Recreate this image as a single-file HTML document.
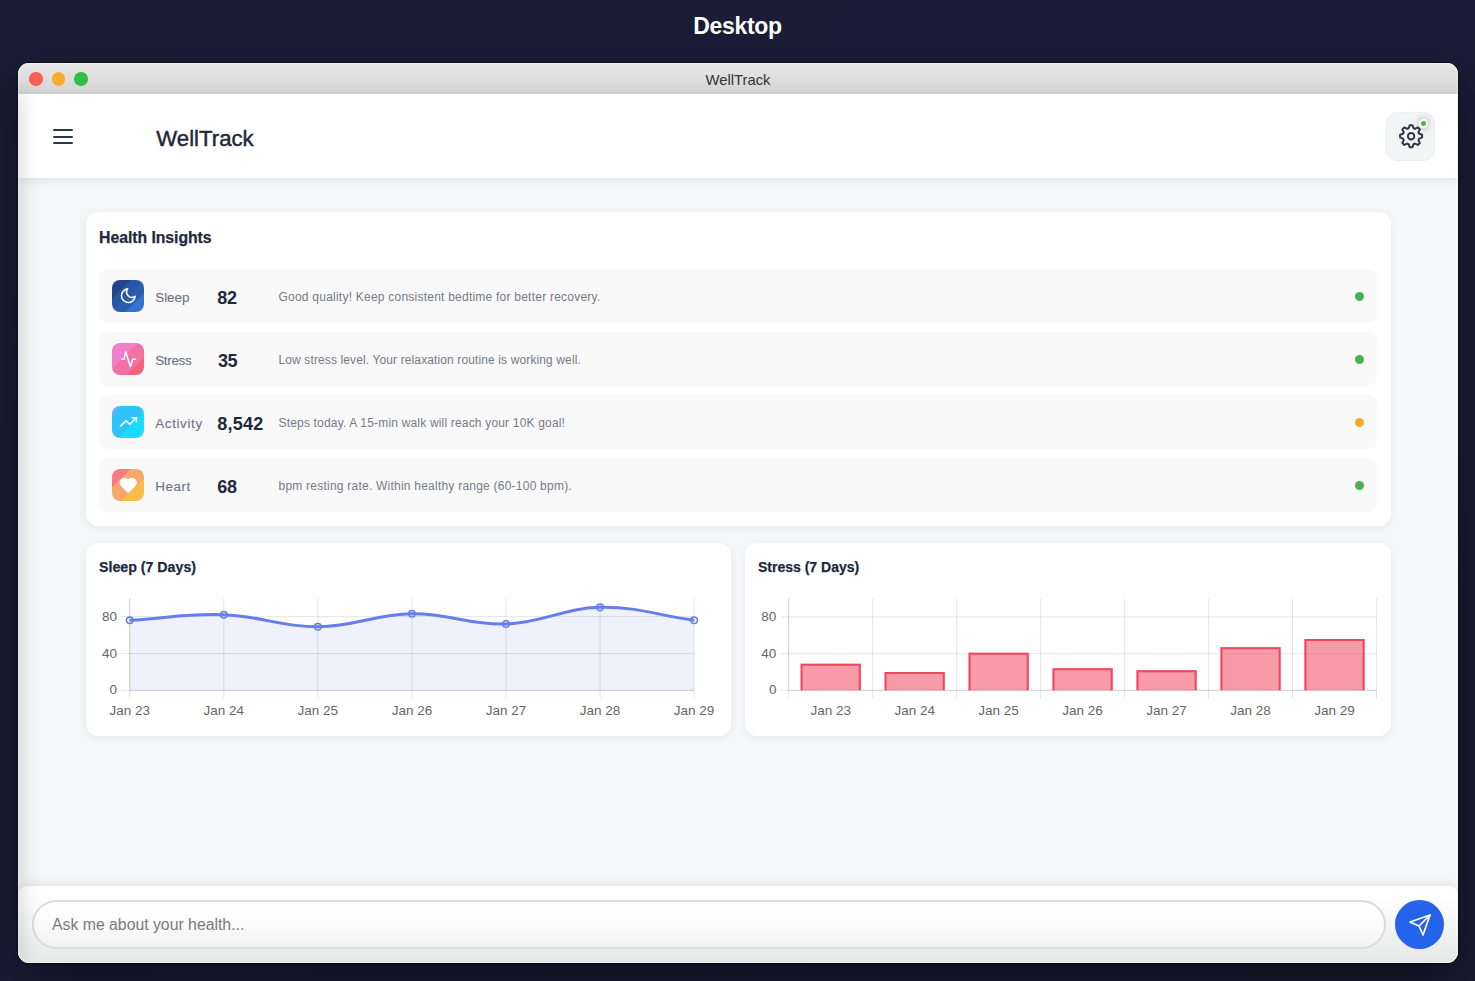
<!DOCTYPE html>
<html>
<head>
<meta charset="utf-8">
<style>
*{box-sizing:border-box;margin:0;padding:0}
html,body{width:1475px;height:981px;overflow:hidden}
body{font-family:"Liberation Sans",sans-serif;background:linear-gradient(135deg,#1a1d34 0%,#1b1d38 50%,#191c33 100%);position:relative}
.abs{position:absolute}
#dtitle{position:absolute;left:0;width:1475px;top:11px;text-align:center;color:#fff;font-weight:bold;font-size:23px;line-height:30px;letter-spacing:-0.3px}
#win{position:absolute;left:18px;top:63px;width:1440px;height:900px;border-radius:11px;overflow:hidden;background:#f5f6f8;
  box-shadow:0 0 0 1px rgba(0,0,0,0.55),0 20px 50px rgba(0,0,0,0.45)}
#inner{position:absolute;left:-18px;top:-63px;width:1475px;height:981px}
#tbar{position:absolute;left:18px;top:63px;width:1440px;height:31px;background:linear-gradient(180deg,#e7e7e7 0%,#dedede 50%,#d2d2d2 100%)}
.tl{position:absolute;top:72.2px;width:13.6px;height:13.6px;border-radius:50%}
#ttitle{position:absolute;left:18px;width:1440px;top:71px;text-align:center;font-size:14.8px;line-height:18px;color:#333}
#hdr{position:absolute;left:18px;top:94px;width:1440px;height:84px;background:#fff;box-shadow:0 3px 9px rgba(0,0,0,0.075);z-index:2}
.hb{position:absolute;left:53px;width:20px;height:2px;background:#2d3748;border-radius:1px}
#brand{position:absolute;left:156.3px;top:125.8px;font-size:22.2px;line-height:26px;color:#1f2937;-webkit-text-stroke:0.45px #1f2937}
#gear{position:absolute;left:1386px;top:112px;width:49px;height:49px;border-radius:11px;background:#f3f4f6;border:1px solid #eceef1}
#gdot{position:absolute;left:1418.5px;top:119px;width:9px;height:9px;border-radius:50%;background:#4caf50;border:2px solid #fff;box-shadow:0 0 6px 1px rgba(0,0,0,0.22)}
.card{position:absolute;background:#fff;border-radius:12px;box-shadow:0 2px 8px rgba(0,0,0,0.06)}
.ctitle{position:absolute;font-weight:bold;color:#1e293b;-webkit-text-stroke:0.25px #1e293b}
.row{position:absolute;left:99px;width:1278px;height:54px;background:#f9f9fa;border-radius:8px}
.ic{position:absolute;left:13.4px;top:11.2px;width:31.6px;height:31.6px;border-radius:8px}
.ic svg{position:absolute}
.lbl{position:absolute;left:56.2px;top:19.7px;font-size:13.5px;line-height:18px;color:#6b7280;-webkit-text-stroke:0.08px #6b7280}
.val{position:absolute;left:118.3px;top:18.3px;font-size:18px;line-height:22px;font-weight:bold;color:#1e293b}
.desc{position:absolute;left:179.5px;top:20px;font-size:12px;line-height:16px;color:#767b84}
.dot{position:absolute;left:1255.8px;top:23px;width:9px;height:9px;border-radius:50%}
svg text{font-family:"Liberation Sans",sans-serif;font-size:13.5px;fill:#666}
#sbshadow{position:absolute;left:-282px;top:94px;width:300px;height:870px;background:#fff;box-shadow:2px 0 20px rgba(0,0,0,0.17);z-index:5}
#ibar{position:absolute;left:18px;top:886px;width:1440px;height:77px;background:linear-gradient(180deg,#fff 0%,#fcfcfc 25%,#e6e7e7 100%);border-radius:9px 9px 0 0;box-shadow:0 -2px 10px rgba(0,0,0,0.09);z-index:3}
#inp{position:absolute;left:32px;top:900px;width:1354px;height:49px;border-radius:24.5px;border:2px solid #d6dde6;background:linear-gradient(180deg,#fff 0%,#fbfbfb 50%,#f1f1f1 100%);z-index:4}
#ph{position:absolute;left:18px;top:13.6px;font-size:15.8px;line-height:18px;color:#7a7a7a}
#send{position:absolute;left:1395px;top:900px;width:49.2px;height:49.2px;border-radius:50%;background:#2563eb;z-index:4}
#wborder{position:absolute;left:0;top:0;width:1440px;height:900px;border-radius:11px;border:1px solid rgba(255,255,255,0.45);z-index:10;pointer-events:none}
</style>
</head>
<body>
<div id="dtitle">Desktop</div>
<div id="win">
 <div id="inner">
  <div id="tbar"></div>
  <div class="tl" style="left:29.3px;background:#f55f57"></div>
  <div class="tl" style="left:51.7px;background:#fbab2c"></div>
  <div class="tl" style="left:74.25px;background:#2fbf43"></div>
  <div id="ttitle">WellTrack</div>

  <div id="hdr">
  </div>
  <div class="hb" style="top:128.8px;z-index:3"></div>
  <div class="hb" style="top:135.5px;z-index:3"></div>
  <div class="hb" style="top:142.2px;z-index:3"></div>
  <div id="brand" style="z-index:3">WellTrack</div>
  <div id="gear" style="z-index:3">
   <svg width="49" height="49" viewBox="0 0 49 49" style="position:absolute;left:-1px;top:-1px">
    <g transform="translate(25.1 24.2)" fill="none" stroke="#2d3748" stroke-width="2" stroke-linejoin="round">
     <path d="M-2.4 -7.95 L-1.4 -11 L1.4 -11 L2.4 -7.95 A8.3 8.3 0 0 1 3.92 -7.32 L6.79 -8.77 L8.77 -6.79 L7.32 -3.92 A8.3 8.3 0 0 1 7.95 -2.4 L11 -1.4 L11 1.4 L7.95 2.4 A8.3 8.3 0 0 1 7.32 3.92 L8.77 6.79 L6.79 8.77 L3.92 7.32 A8.3 8.3 0 0 1 2.4 7.95 L1.4 11 L-1.4 11 L-2.4 7.95 A8.3 8.3 0 0 1 -3.92 7.32 L-6.79 8.77 L-8.77 6.79 L-7.32 3.92 A8.3 8.3 0 0 1 -7.95 2.4 L-11 1.4 L-11 -1.4 L-7.95 -2.4 A8.3 8.3 0 0 1 -7.32 -3.92 L-8.77 -6.79 L-6.79 -8.77 L-3.92 -7.32 A8.3 8.3 0 0 1 -2.4 -7.95Z"/>
     <circle r="3.2"/>
    </g>
   </svg>
  </div>
  <div id="gdot" style="z-index:4"></div>

  <!-- Insights card -->
  <div class="card" style="left:85.5px;top:212px;width:1305px;height:313.5px">
   <div class="ctitle" style="left:13.6px;top:17.4px;font-size:15.8px;line-height:18px;letter-spacing:-0.05px">Health Insights</div>
  </div>
  <div class="row" style="top:269px">
   <div class="ic" style="background:linear-gradient(135deg,#244489 0 28.3%,#2a57a5 28.3% 50%,#2c5dae 50% 70.5%,#3573d3 70.5%)"></div>
   <div class="lbl" style="letter-spacing:-0.05px">Sleep</div><div class="val" style="letter-spacing:-0.4px">82</div>
   <div class="desc" style="letter-spacing:0.23px">Good quality! Keep consistent bedtime for better recovery.</div>
   <div class="dot" style="background:#4caf50"></div>
  </div>
  <div class="row" style="top:332px">
   <div class="ic" style="background:linear-gradient(135deg,#f080cc 0 40%,#f370a3 40% 73%,#f5627b 73%)"></div>
   <div class="lbl" style="letter-spacing:-0.35px">Stress</div><div class="val" style="letter-spacing:-0.3px;margin-left:0.6px">35</div>
   <div class="desc" style="letter-spacing:0.12px">Low stress level. Your relaxation routine is working well.</div>
   <div class="dot" style="background:#4caf50"></div>
  </div>
  <div class="row" style="top:395px">
   <div class="ic" style="background:linear-gradient(135deg,#5ab0fa 0 16%,#2ec4fb 16% 58%,#1adcfe 58%)"></div>
   <div class="lbl" style="letter-spacing:0.6px">Activity</div><div class="val" style="letter-spacing:0.2px">8,542</div>
   <div class="desc" style="letter-spacing:0.18px">Steps today. A 15-min walk will reach your 10K goal!</div>
   <div class="dot" style="background:#ffa726"></div>
  </div>
  <div class="row" style="top:458px">
   <div class="ic" style="background:linear-gradient(135deg,#f87a82 0 29%,#f8a86c 29% 64.5%,#fbbd4a 64.5%)"></div>
   <div class="lbl" style="letter-spacing:0.5px">Heart</div><div class="val" style="letter-spacing:-0.4px">68</div>
   <div class="desc" style="letter-spacing:0.23px">bpm resting rate. Within healthy range (60-100 bpm).</div>
   <div class="dot" style="background:#4caf50"></div>
  </div>

  <svg class="abs" style="left:0;top:0;z-index:1" width="1475" height="981" viewBox="0 0 1475 981" fill="none" stroke="#fff" stroke-linecap="round" stroke-linejoin="round">
   <g transform="translate(119.2 286.6) scale(0.76)" stroke-width="2"><path d="M21 12.79A9 9 0 1 1 11.21 3 7 7 0 0 0 21 12.79z"/></g>
   <polyline stroke-width="1.5" points="121.8 359.2 124.1 359.2 125.7 352 130.4 366.8 132.6 359.2 135.2 359.2"/>
   <polyline stroke-width="1.5" points="120.7 425.9 126.07 420.84 129.64 424.21 136.42 417.8"/>
   <polyline stroke-width="1.5" points="132.14 417.8 136.42 417.8 136.42 421.85"/>
   <g transform="translate(119.25 476.3) scale(0.75)" stroke-width="2" fill="#fff"><path d="M20.84 4.61a5.5 5.5 0 0 0-7.78 0L12 5.67l-1.06-1.06a5.5 5.5 0 0 0-7.78 7.78l1.06 1.06L12 21.23l7.78-7.78 1.06-1.06a5.5 5.5 0 0 0 0-7.78z"/></g>
  </svg>

  <!-- Chart cards -->
  <div class="card" style="left:85.5px;top:543px;width:645.5px;height:192.5px">
   <div class="ctitle" style="left:13.5px;top:14.9px;font-size:14.2px;line-height:18px">Sleep (7 Days)</div>
  </div>
  <div class="card" style="left:745px;top:543px;width:645.5px;height:192.5px">
   <div class="ctitle" style="left:13px;top:15px;font-size:14px;line-height:18px">Stress (7 Days)</div>
  </div>
  <svg class="abs" style="left:0;top:0" width="1475" height="981" viewBox="0 0 1475 981">
<path d="M129.75 620.28 C167.37 618.07 186.31 613.46 223.81 614.75 C261.55 616.04 280.27 626.92 317.87 626.73 C355.52 626.55 374.24 614.38 411.93 613.82 C449.49 613.27 468.55 625.25 505.99 623.97 C543.79 622.67 562.31 608.11 600.05 607.37 C637.56 606.63 656.49 615.11 694.11 620.28 L694.11 690.35 L129.75 690.35 Z" fill="rgba(102,126,234,0.1)"/>
<line x1="121" y1="690.35" x2="694.11" y2="690.35" stroke="rgba(0,0,0,0.1)" stroke-width="1"/>
<line x1="121" y1="653.47" x2="694.11" y2="653.47" stroke="rgba(0,0,0,0.1)" stroke-width="1"/>
<line x1="121" y1="616.59" x2="694.11" y2="616.59" stroke="rgba(0,0,0,0.1)" stroke-width="1"/>
<line x1="129.75" y1="598.15" x2="129.75" y2="698.35" stroke="rgba(0,0,0,0.1)" stroke-width="1"/>
<line x1="223.81" y1="598.15" x2="223.81" y2="698.35" stroke="rgba(0,0,0,0.1)" stroke-width="1"/>
<line x1="317.87" y1="598.15" x2="317.87" y2="698.35" stroke="rgba(0,0,0,0.1)" stroke-width="1"/>
<line x1="411.93" y1="598.15" x2="411.93" y2="698.35" stroke="rgba(0,0,0,0.1)" stroke-width="1"/>
<line x1="505.99" y1="598.15" x2="505.99" y2="698.35" stroke="rgba(0,0,0,0.1)" stroke-width="1"/>
<line x1="600.05" y1="598.15" x2="600.05" y2="698.35" stroke="rgba(0,0,0,0.1)" stroke-width="1"/>
<line x1="694.11" y1="598.15" x2="694.11" y2="698.35" stroke="rgba(0,0,0,0.1)" stroke-width="1"/>
<line x1="129.75" y1="598.15" x2="129.75" y2="690.35" stroke="rgba(0,0,0,0.1)" stroke-width="1"/>
<line x1="129.75" y1="690.35" x2="694.11" y2="690.35" stroke="rgba(0,0,0,0.1)" stroke-width="1"/>
<path d="M129.75 620.28 C167.37 618.07 186.31 613.46 223.81 614.75 C261.55 616.04 280.27 626.92 317.87 626.73 C355.52 626.55 374.24 614.38 411.93 613.82 C449.49 613.27 468.55 625.25 505.99 623.97 C543.79 622.67 562.31 608.11 600.05 607.37 C637.56 606.63 656.49 615.11 694.11 620.28" fill="none" stroke="#667eea" stroke-width="3"/>
<circle cx="129.75" cy="620.28" r="3.3" fill="rgba(102,126,234,0.1)" stroke="#667eea" stroke-width="1.5"/>
<circle cx="223.81" cy="614.75" r="3.3" fill="rgba(102,126,234,0.1)" stroke="#667eea" stroke-width="1.5"/>
<circle cx="317.87" cy="626.73" r="3.3" fill="rgba(102,126,234,0.1)" stroke="#667eea" stroke-width="1.5"/>
<circle cx="411.93" cy="613.82" r="3.3" fill="rgba(102,126,234,0.1)" stroke="#667eea" stroke-width="1.5"/>
<circle cx="505.99" cy="623.97" r="3.3" fill="rgba(102,126,234,0.1)" stroke="#667eea" stroke-width="1.5"/>
<circle cx="600.05" cy="607.37" r="3.3" fill="rgba(102,126,234,0.1)" stroke="#667eea" stroke-width="1.5"/>
<circle cx="694.11" cy="620.28" r="3.3" fill="rgba(102,126,234,0.1)" stroke="#667eea" stroke-width="1.5"/>
<text x="117.1" y="693.65" text-anchor="end">0</text>
<text x="117.1" y="657.77" text-anchor="end">40</text>
<text x="117.1" y="620.89" text-anchor="end">80</text>
<text x="129.75" y="714.5" text-anchor="middle">Jan 23</text>
<text x="223.81" y="714.5" text-anchor="middle">Jan 24</text>
<text x="317.87" y="714.5" text-anchor="middle">Jan 25</text>
<text x="411.93" y="714.5" text-anchor="middle">Jan 26</text>
<text x="505.99" y="714.5" text-anchor="middle">Jan 27</text>
<text x="600.05" y="714.5" text-anchor="middle">Jan 28</text>
<text x="694.11" y="714.5" text-anchor="middle">Jan 29</text>
<line x1="780.7" y1="690.3" x2="1376.5" y2="690.3" stroke="rgba(0,0,0,0.1)" stroke-width="1"/>
<line x1="780.7" y1="653.66" x2="1376.5" y2="653.66" stroke="rgba(0,0,0,0.1)" stroke-width="1"/>
<line x1="780.7" y1="617.02" x2="1376.5" y2="617.02" stroke="rgba(0,0,0,0.1)" stroke-width="1"/>
<line x1="788.7" y1="598.7" x2="788.7" y2="698.3" stroke="rgba(0,0,0,0.1)" stroke-width="1"/>
<line x1="872.67" y1="598.7" x2="872.67" y2="698.3" stroke="rgba(0,0,0,0.1)" stroke-width="1"/>
<line x1="956.64" y1="598.7" x2="956.64" y2="698.3" stroke="rgba(0,0,0,0.1)" stroke-width="1"/>
<line x1="1040.61" y1="598.7" x2="1040.61" y2="698.3" stroke="rgba(0,0,0,0.1)" stroke-width="1"/>
<line x1="1124.59" y1="598.7" x2="1124.59" y2="698.3" stroke="rgba(0,0,0,0.1)" stroke-width="1"/>
<line x1="1208.56" y1="598.7" x2="1208.56" y2="698.3" stroke="rgba(0,0,0,0.1)" stroke-width="1"/>
<line x1="1292.53" y1="598.7" x2="1292.53" y2="698.3" stroke="rgba(0,0,0,0.1)" stroke-width="1"/>
<line x1="1376.5" y1="598.7" x2="1376.5" y2="698.3" stroke="rgba(0,0,0,0.1)" stroke-width="1"/>
<line x1="788.7" y1="598.7" x2="788.7" y2="690.3" stroke="rgba(0,0,0,0.1)" stroke-width="1"/>
<line x1="788.7" y1="690.3" x2="1376.5" y2="690.3" stroke="rgba(0,0,0,0.1)" stroke-width="1"/>
<rect x="800.62" y="663.74" width="60.12" height="26.56" fill="rgba(240,70,95,0.54)"/>
<path d="M801.62 690.3 V664.74 H859.75 V690.3" fill="none" stroke="#f0465f" stroke-width="2"/>
<rect x="884.6" y="671.98" width="60.12" height="18.32" fill="rgba(240,70,95,0.54)"/>
<path d="M885.6 690.3 V672.98 H943.72 V690.3" fill="none" stroke="#f0465f" stroke-width="2"/>
<rect x="968.57" y="652.74" width="60.12" height="37.56" fill="rgba(240,70,95,0.54)"/>
<path d="M969.57 690.3 V653.74 H1027.69 V690.3" fill="none" stroke="#f0465f" stroke-width="2"/>
<rect x="1052.54" y="668.32" width="60.12" height="21.98" fill="rgba(240,70,95,0.54)"/>
<path d="M1053.54 690.3 V669.32 H1111.66 V690.3" fill="none" stroke="#f0465f" stroke-width="2"/>
<rect x="1136.51" y="670.15" width="60.12" height="20.15" fill="rgba(240,70,95,0.54)"/>
<path d="M1137.51 690.3 V671.15 H1195.63 V690.3" fill="none" stroke="#f0465f" stroke-width="2"/>
<rect x="1220.48" y="647.25" width="60.12" height="43.05" fill="rgba(240,70,95,0.54)"/>
<path d="M1221.48 690.3 V648.25 H1279.6 V690.3" fill="none" stroke="#f0465f" stroke-width="2"/>
<rect x="1304.45" y="639" width="60.12" height="51.3" fill="rgba(240,70,95,0.54)"/>
<path d="M1305.45 690.3 V640 H1363.58 V690.3" fill="none" stroke="#f0465f" stroke-width="2"/>
<text x="776.4" y="693.6" text-anchor="end">0</text>
<text x="776.4" y="657.96" text-anchor="end">40</text>
<text x="776.4" y="621.32" text-anchor="end">80</text>
<text x="830.69" y="714.5" text-anchor="middle">Jan 23</text>
<text x="914.66" y="714.5" text-anchor="middle">Jan 24</text>
<text x="998.63" y="714.5" text-anchor="middle">Jan 25</text>
<text x="1082.6" y="714.5" text-anchor="middle">Jan 26</text>
<text x="1166.57" y="714.5" text-anchor="middle">Jan 27</text>
<text x="1250.54" y="714.5" text-anchor="middle">Jan 28</text>
<text x="1334.51" y="714.5" text-anchor="middle">Jan 29</text>
  </svg>

  <div id="sbshadow"></div>
  <div id="ibar"></div>
  <div id="inp"><div id="ph">Ask me about your health...</div></div>
  <div id="send">
   <svg width="24" height="24" viewBox="0 0 24 24" style="position:absolute;left:12.5px;top:12.7px" fill="none" stroke="#fff" stroke-width="1.7" stroke-linecap="round" stroke-linejoin="round"><line x1="22" y1="2" x2="11" y2="13"/><polygon points="22 2 15 22 11 13 2 9 22 2"/></svg>
  </div>
 </div>
 <div id="wborder"></div>
</div>
</body>
</html>
